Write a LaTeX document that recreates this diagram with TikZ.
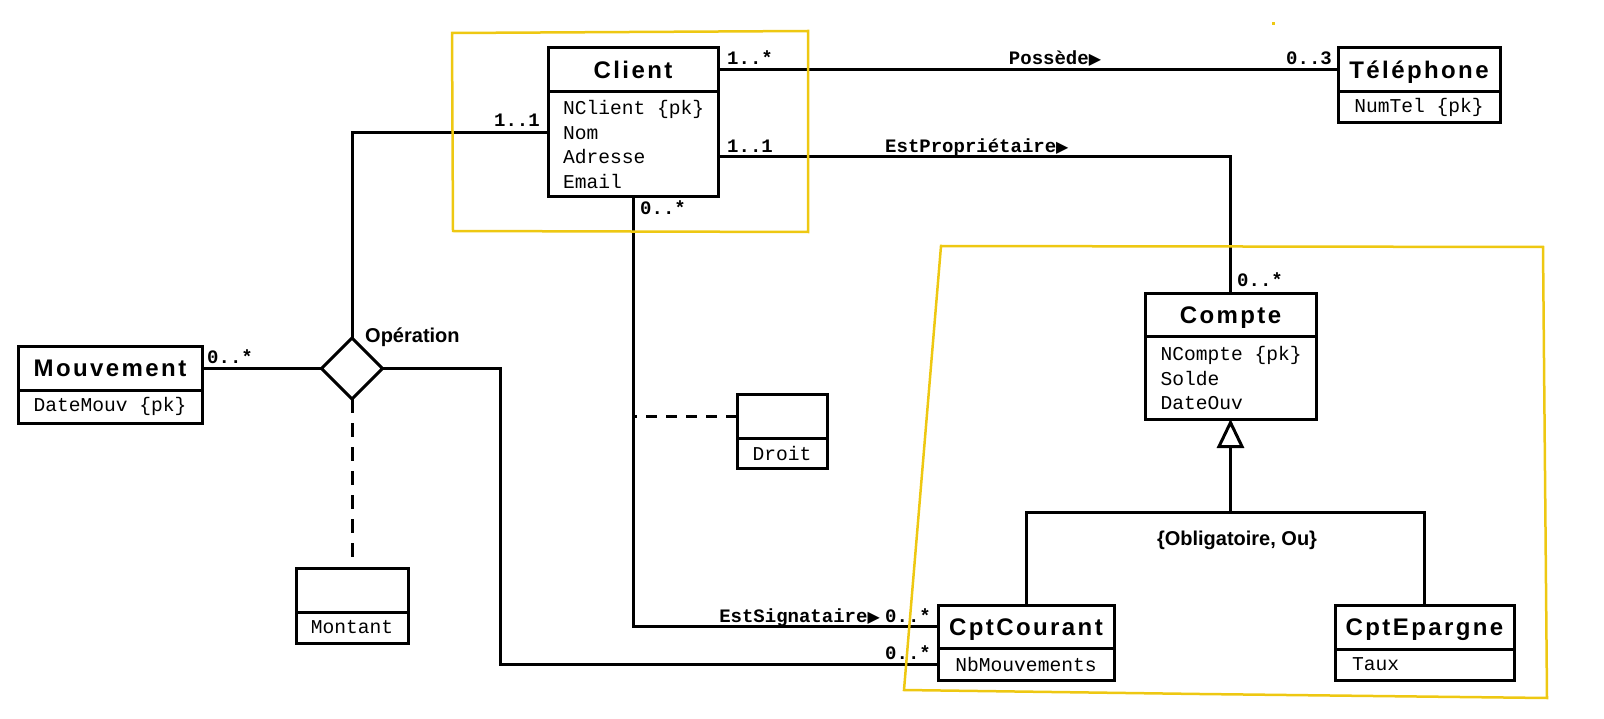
\documentclass[tikz,border=0pt]{standalone}
\usepackage{fontspec}
\setmainfont{Liberation Sans}
\newfontfamily\titlefont[LetterSpace=10]{Liberation Sans}
\newfontfamily\monofont{Liberation Mono}
\newfontfamily\symfont{DejaVu Sans}
\usepackage{tikz}
\usetikzlibrary{shapes.geometric,arrows.meta}
\definecolor{surligne}{RGB}{238,200,18}
\newcommand{\sensfleche}{{\symfont\fontsize{16}{16}\selectfont ▶}}

\begin{document}
\begin{tikzpicture}[x=1pt,y=-1pt]
        \useasboundingbox (0,0) rectangle (1604,719);

        % titres des classes
        \begin{scope}[every node/.style={draw, line width=3pt, outer sep=0pt, inner sep=0pt, anchor=north west, text height=17pt, text depth=0pt, font=\titlefont\bfseries\fontsize{24}{24}\selectfont}]
                \node [minimum width=170pt, minimum height=44pt] (client) at (548,48) {Client};
                \node [minimum width=162pt, minimum height=44pt] (tel) at (1338,48) {Téléphone};
                \node [minimum width=171pt, minimum height=43pt] (compte) at (1145,294) {Compte};
                \node [minimum width=184pt, minimum height=43pt] (mouv) at (18,347) {Mouvement};
                \node [minimum width=112pt, minimum height=44pt] (montant) at (296,568) {};
                \node [minimum width=90pt, minimum height=44pt] (droit) at (737,394) {};
                \node [minimum width=176pt, minimum height=43pt] (courant) at (938,605) {CptCourant};
                \node [minimum width=179pt, minimum height=44pt] (epargne) at (1335,605) {CptEpargne};
        \end{scope}

        % attributs
        \begin{scope}[every node/.style={draw, line width=3pt, outer sep=0pt, inner xsep=5pt, inner ysep=0pt, anchor=north west, font=\monofont\fontsize{19.6}{24.7}\selectfont}]
                \node [minimum width=170pt, minimum height=105pt, inner xsep=15pt, text width=140pt, align=left] (clientattr) at (client.south west) {NClient\kern0.6em\{pk\}\\Nom\\Adresse\\Email};
                \node [minimum width=162pt, minimum height=31pt] (telattr) at (tel.south west) {NumTel \{pk\}};
                \node [minimum width=171pt, minimum height=82pt, inner xsep=15.5pt, text width=140pt, align=left] (compteattr) at (compte.south west) {NCompte\kern0.6em\{pk\}\\Solde\\DateOuv};
                \node [minimum width=184pt, minimum height=33pt] (mouvattr) at (mouv.south west) {DateMouv \{pk\}};
                \node [minimum width=112pt, minimum height=31pt] (montantattr) at (montant.south west) {Montant};
                \node [minimum width=90pt, minimum height=30pt] (droitattr) at (droit.south west) {Droit};
                \node [minimum width=176pt, minimum height=32pt] (courantattr) at (courant.south west) {NbMouvements};
                \node [minimum width=179pt, minimum height=31pt, inner xsep=17pt, text width=145pt, align=left] (epargneattr) at (epargne.south west) {Taux};
        \end{scope}

        \node [draw, diamond, aspect=1, line width=3pt, outer sep=0pt, inner sep=0pt, minimum width=61pt, minimum height=61pt] (op) at (352,368.5) {};

        % associations
        \begin{scope}[every path/.style={line width=3pt}]
                \draw (client.east) -- (tel.west);
                \draw ([yshift=-12.5pt]clientattr.east) -| (compte.north);
                \draw ([yshift=11.5pt]clientattr.west) -| (op.north);
                \draw (clientattr.south) |- (courant.west);
                \draw (mouv.east) -- (op.west);
                \draw (op.east) -- ++(118,0) |- (courantattr.west);
                \draw [dash pattern=on 11pt off 9pt] (droit.west) -- (droit.west -| clientattr.south);
                \draw [dash pattern=on 14pt off 10pt] (op.south) -- (montant.north);
                \coordinate (gen) at (1230.5,512);
                \draw (courant.north) |- (gen) -| (epargne.north);
                \draw [-{Triangle[open, length=29pt, width=27pt]}] (gen) -- (compteattr.south);
        \end{scope}

        % multiplicites et noms
        \begin{scope}[every node/.style={inner sep=0pt, font=\monofont\bfseries\fontsize{19}{19}\selectfont}]
                \node [anchor=base west] (mcltel) at (727,65) {1..*};
                \node [anchor=base east] (mtel) at (1332,65) {0..3};
                \node [anchor=base] (possede) at (1055,65) {Possède\sensfleche};
                \node [anchor=base west] (mclcpt) at (727,153) {1..1};
                \node [anchor=base west] (estprop) at (885,153) {EstPropriétaire\sensfleche};
                \node [anchor=base west] (mcpt) at (1237,287) {0..*};
                \node [anchor=base east] (mclop) at (540,127) {1..1};
                \node [anchor=base west] (mclsig) at (640,215) {0..*};
                \node [anchor=base west] (mmouv) at (207,363) {0..*};
                \node [anchor=base east] (estsig) at (880,622) {EstSignataire\sensfleche};
                \node [anchor=base west] (msig) at (885,622) {0..*};
                \node [anchor=base west] (mop) at (885,659) {0..*};
                \node [anchor=base west, font=\bfseries\fontsize{20}{20}\selectfont] (oplabel) at (365,343) {Opération};
                \node [anchor=base, font=\bfseries\fontsize{20}{20}\selectfont] (contrainte) at (1237,545) {\{Obligatoire, Ou\}};
        \end{scope}

        % surlignage
        \begin{scope}[surligne, line width=2.5pt]
                \draw (452,33) -- (808,31) -- (808,232) -- (453,231) -- cycle;
                \draw (941,246) -- (1543,247) -- (1547,698) -- (1200,694) -- (904,690) -- cycle;
                \fill (1272,22) rectangle (1275,25);
        \end{scope}
\end{tikzpicture}
\end{document}
